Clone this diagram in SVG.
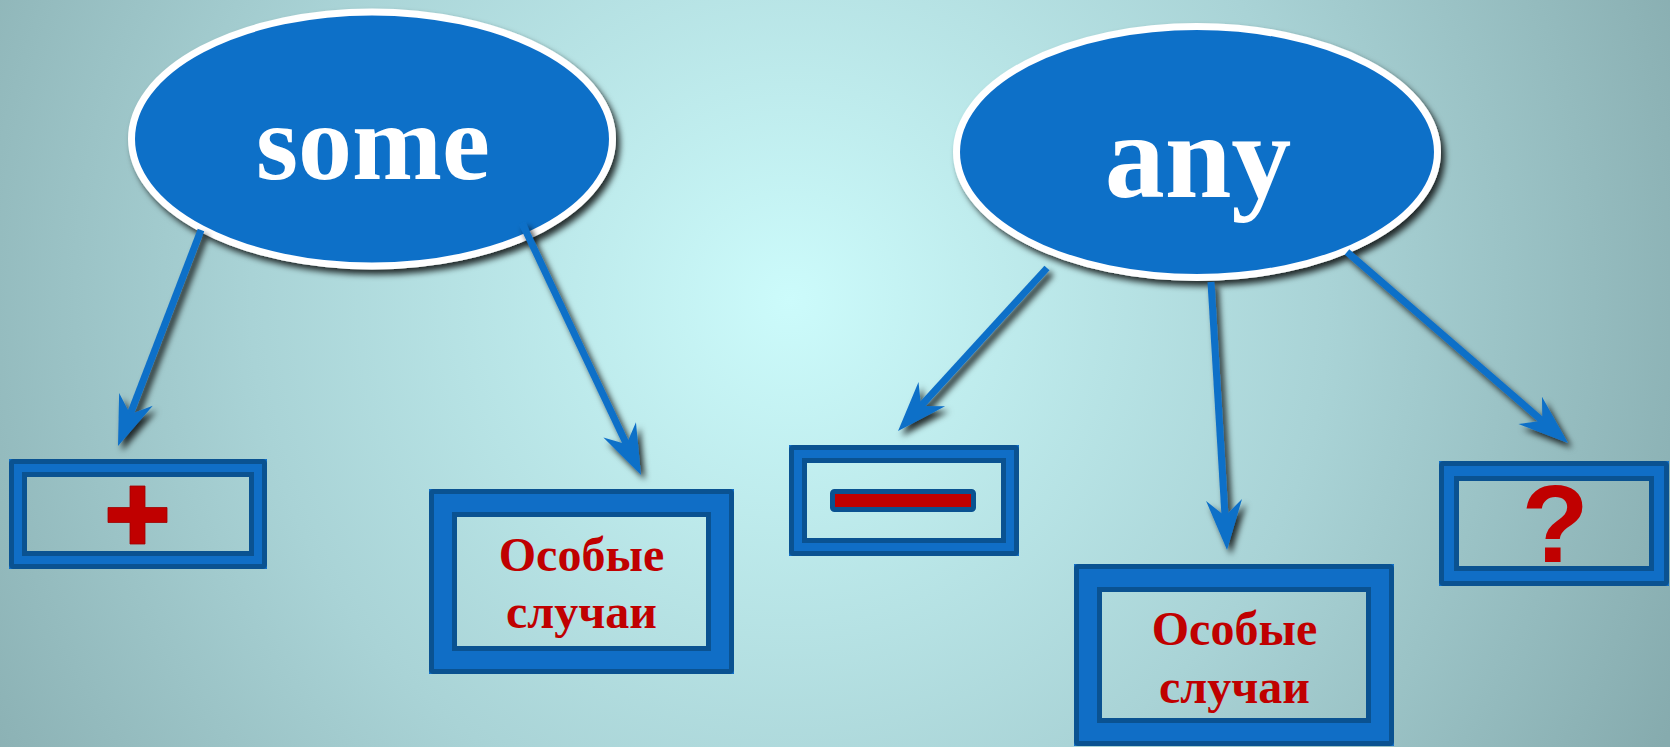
<svg xmlns="http://www.w3.org/2000/svg" width="1670" height="747" viewBox="0 0 1670 747">
<defs>
<radialGradient id="bg" cx="790" cy="300" r="980" gradientUnits="userSpaceOnUse">
<stop offset="0" stop-color="#CCFBFB"/>
<stop offset="0.55" stop-color="#A9D3D6"/>
<stop offset="1" stop-color="#86ABAE"/>
</radialGradient>
<filter id="sh" x="-20%" y="-20%" width="140%" height="140%">
<feDropShadow dx="4" dy="5" stdDeviation="3" flood-color="#000" flood-opacity="0.8"/>
</filter>
<marker id="ah" markerUnits="userSpaceOnUse" orient="auto" refX="0" refY="0" markerWidth="60" markerHeight="40" overflow="visible">
<path d="M34,0 L-16,-18 L0,0 L-16,18 Z" fill="#1170C8"/>
</marker>
<style>
.ell{fill:#1170C8;stroke:#FFFFFF;stroke-width:7;filter:url(#sh)}
.big{font-family:"Liberation Serif","Times New Roman",serif;font-weight:bold;fill:#FFFFFF;text-anchor:middle}
.lbl{font-family:"Liberation Serif","Times New Roman",serif;font-weight:bold;font-size:48px;fill:#C00000;text-anchor:middle}
.band{fill:none;stroke:#106EC6}
.dk{fill:none;stroke:#0A5291;stroke-width:5}
.red{fill:#C00000}
.arr{stroke:#1170C8;stroke-width:7;fill:none;marker-end:url(#ah)}
</style>
</defs>
<rect x="0" y="0" width="1670" height="747" fill="url(#bg)"/>
<g id="nodes">
<g id="some">
<ellipse class="ell" cx="372" cy="139" rx="240.5" ry="127"/>
<text class="big" x="373" y="179" font-size="108">some</text>
</g>
<g id="any">
<ellipse class="ell" cx="1197" cy="152" rx="240.5" ry="125.5"/>
<text class="big" x="1198" y="197" font-size="120">any</text>
</g>
<g id="plus">
<rect class="band" x="18" y="468" width="240" height="92" stroke-width="18"/>
<rect class="dk" x="11.5" y="461.5" width="253" height="105" rx="2"/>
<rect class="dk" x="24.5" y="474.5" width="227" height="79"/>
<path class="red" d="M130,486 H145 V507.5 H167 V522.5 H145 V544 H130 V522.5 H108 V507.5 H130 Z" stroke="#A00000" stroke-width="0.8"/>
</g>
<g id="special1">
<rect class="band" x="443" y="503" width="277" height="157" stroke-width="28"/>
<rect class="dk" x="431.5" y="491.5" width="300" height="180" rx="2"/>
<rect class="dk" x="454.5" y="514.5" width="254" height="134"/>
<text class="lbl" x="581.5" y="571">Особые</text>
<text class="lbl" x="581.5" y="628">случаи</text>
</g>
<g id="minus">
<rect class="band" x="798" y="454" width="212" height="93" stroke-width="18"/>
<rect class="dk" x="791.5" y="447.5" width="225" height="106" rx="2"/>
<rect class="dk" x="804.5" y="460.5" width="199" height="80"/>
<rect x="832.5" y="491.5" width="141" height="18" rx="2" fill="#C00000" stroke="#0A5291" stroke-width="5"/>
</g>
<g id="special2">
<rect class="band" x="1088" y="578" width="292" height="154" stroke-width="28"/>
<rect class="dk" x="1076.5" y="566.5" width="315" height="177" rx="2"/>
<rect class="dk" x="1099.5" y="589.5" width="269" height="131"/>
<text class="lbl" x="1234.5" y="645">Особые</text>
<text class="lbl" x="1234.5" y="703">случаи</text>
</g>
<g id="question">
<rect class="band" x="1449" y="471" width="210" height="105" stroke-width="20"/>
<rect class="dk" x="1441.5" y="463.5" width="225" height="120" rx="2"/>
<rect class="dk" x="1456.5" y="478.5" width="195" height="90"/>
<text x="1555" y="562" font-family="'Liberation Sans',Arial,sans-serif" font-weight="bold" font-size="110" fill="#C00000" text-anchor="middle">?</text>
</g>
</g>
<g id="connectors" filter="url(#sh)">
<line class="arr" x1="201" y1="230" x2="130.2" y2="414.3"/>
<line class="arr" x1="522" y1="223" x2="626.5" y2="444.3"/>
<line class="arr" x1="1047" y1="268" x2="921" y2="405.9"/>
<line class="arr" x1="1211" y1="282" x2="1225" y2="516"/>
<line class="arr" x1="1347" y1="252" x2="1542.3" y2="420.8"/>
</g>
</svg>
